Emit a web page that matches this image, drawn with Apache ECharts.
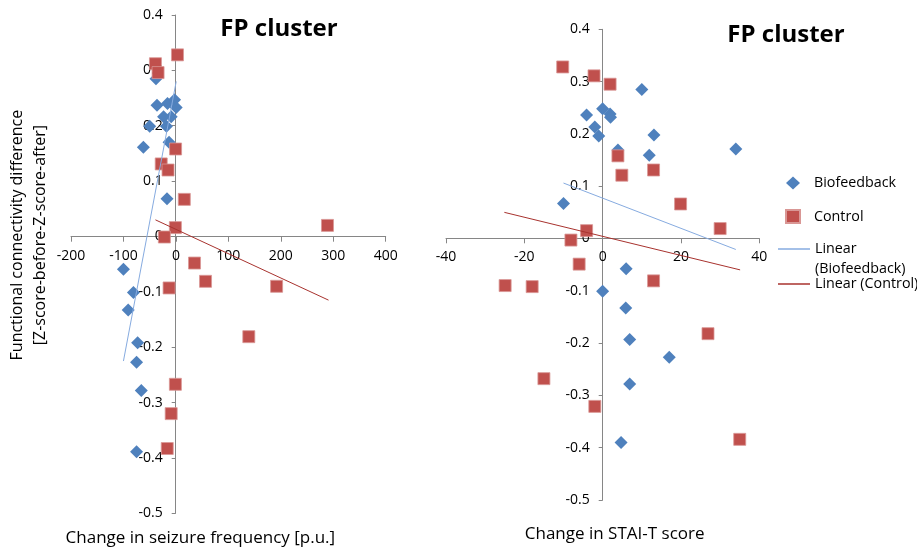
<!DOCTYPE html>
<html>
<head>
<meta charset="utf-8">
<script src="https://cdn.jsdelivr.net/npm/echarts@6/dist/echarts.min.js"></script>
<style>html,body{margin:0;padding:0;background:#fff}#c{width:917px;height:549px}</style>
</head>
<body>
<div id="c"></div>
<script>
// Left panel: change in seizure frequency [p.u.]
const seizureBio = [[-38,0.285],[-36,0.237],[-50,0.199],[-23.5,0.216],[-9,0.216],[-18,0.199],[-16,0.240],[-2.5,0.247],[0.6,0.233],[-13,0.170],[-62,0.161],[-17,0.068],[-100,-0.059],[-81,-0.101],[-91,-0.133],[-73,-0.192],[-75,-0.227],[-66,-0.278],[-75,-0.389]];
const seizureCtrl = [[-39,0.312],[-34,0.296],[3,0.328],[-0.6,0.158],[-28,0.131],[-15,0.120],[16,0.067],[-1,0.016],[-22,-0.001],[289,0.020],[35.5,-0.048],[56.5,-0.081],[-13,-0.093],[192,-0.090],[139,-0.181],[-1,-0.267],[-9,-0.320],[-16.5,-0.383]];
const seizureBioTrend = [[-100,-0.225],[0.6,0.28]];
const seizureCtrlTrend = [[-39,0.030],[291,-0.115]];
// Right panel: change in STAI-T score
const staiBio = [[-10,0.067],[-4.1,0.236],[-2,0.213],[-1,0.196],[0,0.248],[1.9,0.238],[2,0.232],[10,0.285],[13.1,0.198],[3.9,0.169],[11.9,0.159],[34,0.171],[6,-0.058],[0,-0.101],[5.9,-0.133],[6.9,-0.193],[17,-0.227],[6.9,-0.278],[4.7,-0.390]];
const staiCtrl = [[-10.2,0.328],[-2.2,0.311],[1.9,0.295],[3.9,0.158],[4.9,0.121],[13,0.131],[19.9,0.066],[30,0.019],[-4.1,0.015],[-8.1,-0.003],[-6,-0.049],[-24.9,-0.090],[-18,-0.092],[13,-0.081],[26.9,-0.182],[-15,-0.268],[-2,-0.321],[35,-0.384]];
const staiBioTrend = [[-10,0.106],[34,-0.021]];
const staiCtrlTrend = [[-25.1,0.050],[35.1,-0.060]];

const titleText = 'FP cluster';
const xNames = ['Change in seizure frequency [p.u.]', 'Change in STAI-T score'];
const yName = 'Functional connectivity difference\n[Z-score-before-Z-score-after]';
const seriesNames = ['Biofeedback', 'Control', 'Linear (Biofeedback)', 'Linear (Control)'];

const FONT = 'Open Sans';
const BLUE = '#4F81BD', RED = '#C0504D', BLUE_L = '#86ABE0', RED_D = '#A8322E';
const axisLineStyle = {lineStyle:{color:'#868686', width:1}};

// axes sit on the zero line of the other axis (Excel style); offset moves line, ticks, labels and name together
function xAx(idx, min, max, interval, name, gap, offset, namePad) {
  return {
    type:'value', gridIndex: idx, min:min, max:max, interval:interval,
    position:'bottom', offset:offset,
    axisLine:Object.assign({onZero:false}, axisLineStyle),
    axisTick:{show:true, length:5, lineStyle:{color:'#868686'}},
    splitLine:{show:false},
    axisLabel:{fontFamily:FONT, fontSize:14, color:'#000', margin:12},
    name:name, nameLocation:'middle', nameGap:gap,
    nameTextStyle:{fontFamily:FONT, fontSize:17, color:'#000', padding:namePad}
  };
}
function yAx(idx, name, offset) {
  return {
    type:'value', gridIndex: idx, min:-0.5, max:0.4, interval:0.1,
    position:'left', offset:offset,
    axisLine:Object.assign({onZero:false}, axisLineStyle),
    axisTick:{show:true, length:4, lineStyle:{color:'#868686'}},
    splitLine:{show:false},
    axisLabel:{fontFamily:FONT, fontSize:14, color:'#000', margin:13,
      formatter: v => (Math.round(v*10)/10).toString()},
    name:name || '', nameLocation:'middle', nameGap:124, nameRotate:90,
    nameTextStyle:{fontFamily:FONT, fontSize:16, color:'#000', lineHeight:23, padding:[0,0,0,58]}
  };
}
const legText = {fontFamily:FONT, fontSize:14.3, color:'#000'};

const chart = echarts.init(document.getElementById('c'));
chart.setOption({
  animation:false,
  backgroundColor:'#fff',
  title:[
    {text:titleText, left:274, top:12, textAlign:'center', textStyle:{fontFamily:FONT, fontSize:24, fontWeight:'bold', color:'#000'}},
    {text:titleText, left:781, top:18, textAlign:'center', textStyle:{fontFamily:FONT, fontSize:24, fontWeight:'bold', color:'#000'}}
  ],
  grid:[
    {left:71, right:531.3, top:15, bottom:35.7, outerBoundsMode:'none', containLabel:false},
    {left:446, right:157.7, top:29.3, bottom:49, outerBoundsMode:'none', containLabel:false}
  ],
  xAxis:[
    xAx(0, -200, 400, 100, xNames[0], 293, -276.6, [0,56,0,0]),
    xAx(1, -40, 40, 20, xNames[1], 287, -261.7, [0,0,0,24])
  ],
  yAxis:[ yAx(0, yName, -104.7), yAx(1, '', -156.7) ],
  legend:[
    {orient:'vertical', left:785, top:176, padding:0, itemGap:19, itemWidth:14, itemHeight:13,
     textStyle:Object.assign({rich:{p:Object.assign({padding:[0,0,0,9]}, legText)}}, legText),
     formatter: n => '{p|' + n + '}',
     data:[{name:seriesNames[0], icon:'diamond'}, {name:seriesNames[1], icon:'rect'}]},
    {orient:'vertical', left:778, top:219, padding:0, itemWidth:32, itemHeight:1.5,
     textStyle:Object.assign({lineHeight:20}, legText),
     formatter: n => '\nLinear\n(Biofeedback)',
     data:[{name:seriesNames[2], icon:'rect'}]},
    {orient:'vertical', left:778, top:274, padding:0, itemWidth:32, itemHeight:1.5,
     textStyle:Object.assign({lineHeight:20}, legText),
     data:[{name:seriesNames[3], icon:'rect'}]}
  ],
  series:[
    {name:seriesNames[0], type:'scatter', xAxisIndex:0, yAxisIndex:0, data:seizureBio, symbol:'diamond', symbolSize:13, itemStyle:{color:BLUE, opacity:1}, z:3},
    {name:seriesNames[1], type:'scatter', xAxisIndex:0, yAxisIndex:0, data:seizureCtrl, symbol:'rect', symbolSize:12, itemStyle:{color:RED, opacity:1, borderColor:'#D99795', borderWidth:0.8}, z:3},
    {name:seriesNames[2], type:'line', xAxisIndex:0, yAxisIndex:0, data:seizureBioTrend, symbol:'none', lineStyle:{color:BLUE_L, width:1}, itemStyle:{color:BLUE_L}, z:4},
    {name:seriesNames[3], type:'line', xAxisIndex:0, yAxisIndex:0, data:seizureCtrlTrend, symbol:'none', lineStyle:{color:RED_D, width:1}, itemStyle:{color:RED_D}, z:4},
    {name:seriesNames[0], type:'scatter', xAxisIndex:1, yAxisIndex:1, data:staiBio, symbol:'diamond', symbolSize:13, itemStyle:{color:BLUE, opacity:1}, z:3},
    {name:seriesNames[1], type:'scatter', xAxisIndex:1, yAxisIndex:1, data:staiCtrl, symbol:'rect', symbolSize:12, itemStyle:{color:RED, opacity:1, borderColor:'#D99795', borderWidth:0.8}, z:3},
    {name:seriesNames[2], type:'line', xAxisIndex:1, yAxisIndex:1, data:staiBioTrend, symbol:'none', lineStyle:{color:BLUE_L, width:1}, itemStyle:{color:BLUE_L}, z:4},
    {name:seriesNames[3], type:'line', xAxisIndex:1, yAxisIndex:1, data:staiCtrlTrend, symbol:'none', lineStyle:{color:RED_D, width:1}, itemStyle:{color:RED_D}, z:4}
  ]
});
</script>
</body>
</html>
